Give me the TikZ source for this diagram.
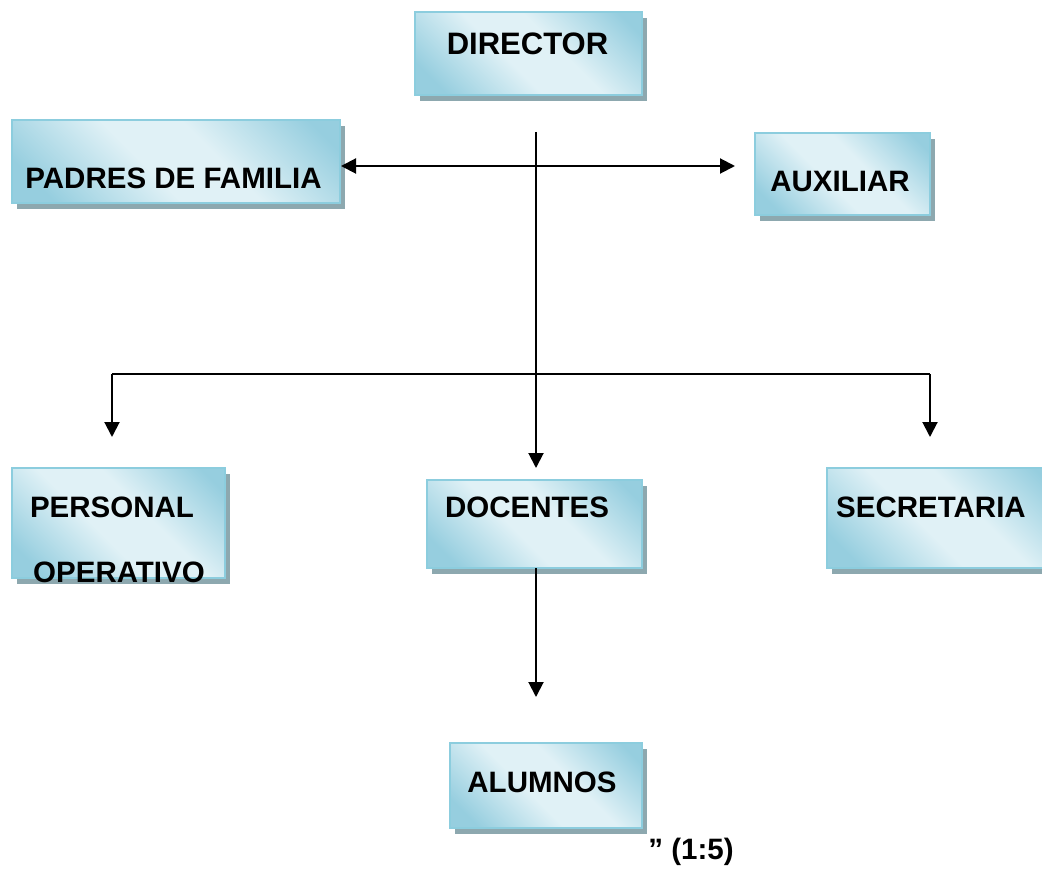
\documentclass[tikz,border=0pt]{standalone}
\usepackage{fontspec}
\setmainfont{Liberation Sans}
\usetikzlibrary{arrows.meta,shadows}
\definecolor{boxdark}{RGB}{150,206,223}
\definecolor{boxlight}{RGB}{224,241,246}
\definecolor{boxedge}{RGB}{140,205,222}
\definecolor{shadowc}{RGB}{141,168,175}
\pgfdeclareverticalshading{boxshade}{100bp}{color(0bp)=(boxdark); color(22bp)=(boxdark); color(44bp)=(boxlight); color(58bp)=(boxlight); color(80bp)=(boxdark); color(100bp)=(boxdark)}
\tikzset{
  orgbox/.style={rectangle, inner sep=0pt, draw=boxedge, line width=1.5pt,
    shading=boxshade, shading angle=-45,
    drop shadow={shadow xshift=5pt, shadow yshift=-6pt, fill=shadowc, opacity=1}},
  lbl/.style={font=\fontsize{29.5}{35}\selectfont\bfseries, inner sep=0pt, anchor=center},
  conn/.style={line width=2pt, draw=black},
  tip/.style={-{Triangle[length=15pt,width=15pt]}},
  dtip/.style={{Triangle[length=15pt,width=15pt]}-{Triangle[length=15pt,width=15pt]}},
}
\begin{document}
\begin{tikzpicture}[x=1pt,y=-1pt]
\useasboundingbox (0,0) rectangle (1042,869);
\clip (0,0) rectangle (1042,869);
% boxes
\node[orgbox, minimum width=227pt, minimum height=83pt] (dir) at (528.5,53.5) {};
\node[orgbox, minimum width=328pt, minimum height=83pt] (pad) at (176,161.5) {};
\node[orgbox, minimum width=175pt, minimum height=82pt] (aux) at (842.5,174) {};
\node[orgbox, minimum width=213pt, minimum height=110pt] (per) at (118.5,523) {};
\node[orgbox, minimum width=215pt, minimum height=88pt] (doc) at (534.5,524) {};
\node[orgbox, minimum width=233pt, minimum height=100pt] (sec) at (943.5,518) {};
\node[orgbox, minimum width=192pt, minimum height=85pt] (alu) at (546,785.5) {};
% labels
\node[lbl, font=\fontsize{31}{37}\selectfont\bfseries] (dirt) at (527.5,43.5) {DIRECTOR};
\node[lbl] (padt) at (173.5,178) {PADRES DE FAMILIA};
\node[lbl] (auxt) at (840,181) {AUXILIAR};
\node[lbl] (pert1) at (112,507) {PERSONAL};
\node[lbl] (pert2) at (119,572) {OPERATIVO};
\node[lbl] (doct) at (527,507) {DOCENTES};
\node[lbl] (sect) at (931,507) {SECRETARIA};
\node[lbl] (alut) at (542,782) {ALUMNOS};
\node[lbl] (note) at (691,852) {” (1:5)};
% connector points
\coordinate (vtop) at (536,132);
\coordinate (docin) at (536,468);
\coordinate (padout) at (341,166);
\coordinate (auxin) at (735,166);
\coordinate (hl) at (112,374);
\coordinate (hr) at (930,374);
\coordinate (perin) at (112,437);
\coordinate (secin) at (930,437);
\coordinate (docout) at (536,568);
\coordinate (aluin) at (536,697);
% connectors
\draw[conn,tip] (vtop) -- (docin);
\draw[conn,dtip] (padout) -- (auxin);
\draw[conn] (hl) -- (hr);
\draw[conn,tip] (hl) -- (perin);
\draw[conn,tip] (hr) -- (secin);
\draw[conn,tip] (docout) -- (aluin);
\end{tikzpicture}
\end{document}
